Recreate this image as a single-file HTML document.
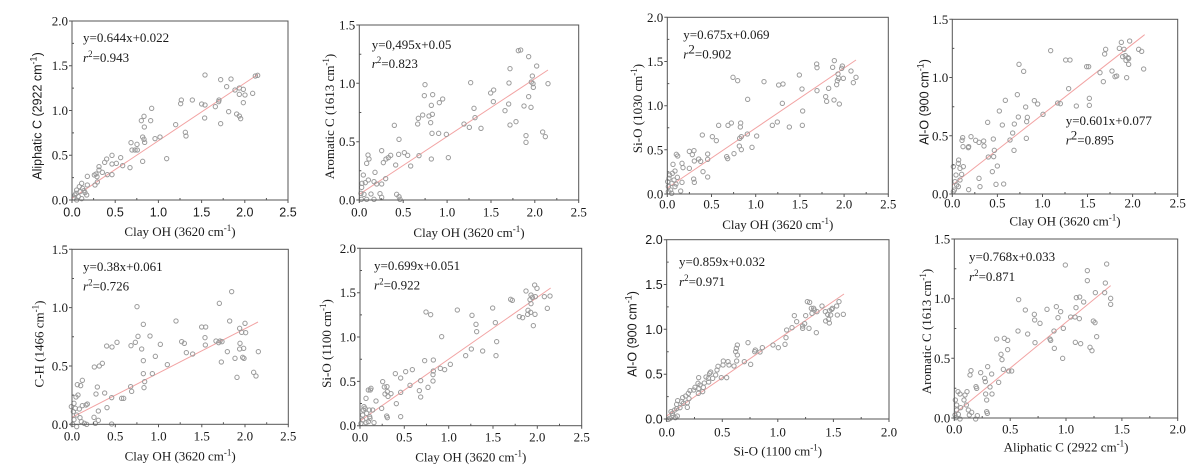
<!DOCTYPE html>
<html><head><meta charset="utf-8"><style>
html,body{margin:0;padding:0;background:#fff;}
svg{display:block;}
.s{font-family:"Liberation Serif",serif;font-size:13px;fill:#1a1a1a;}
.a{font-family:"Liberation Sans",sans-serif;font-size:12.5px;fill:#1a1a1a;}
.ax{fill:none;stroke:#555;stroke-width:1;}
.pt{fill:none;stroke:#9a9a9a;stroke-width:3;}
.rl{stroke:#f2a3a3;stroke-width:3;fill:none;}
</style></head><body>
<svg width="1202" height="470" viewBox="0 0 1202 470" xmlns="http://www.w3.org/2000/svg">
<rect width="1202" height="470" fill="#fff"/>

<!-- ===== Panel 1 ===== -->
<g class="pt" transform="translate(0,0) scale(0.33333)">
<line class="rl" x1="216" y1="595" x2="774" y2="223"/>
<circle cx="615" cy="225" r="6.5"/><circle cx="662" cy="239" r="6.5"/><circle cx="693" cy="237" r="6.5"/><circle cx="680" cy="260" r="6.5"/><circle cx="705" cy="270" r="6.5"/><circle cx="718" cy="264" r="6.5"/><circle cx="730" cy="268" r="6.5"/><circle cx="718" cy="283" r="6.5"/><circle cx="735" cy="285" r="6.5"/><circle cx="758" cy="280" r="6.5"/><circle cx="766" cy="228" r="6.5"/><circle cx="773" cy="226" r="6.5"/><circle cx="730" cy="308" r="6.5"/><circle cx="710" cy="342" r="6.5"/><circle cx="718" cy="348" r="6.5"/><circle cx="722" cy="356" r="6.5"/><circle cx="686" cy="335" r="6.5"/><circle cx="662" cy="371" r="6.5"/><circle cx="657" cy="300" r="6.5"/><circle cx="656" cy="305" r="6.5"/><circle cx="646" cy="320" r="6.5"/><circle cx="605" cy="312" r="6.5"/><circle cx="615" cy="315" r="6.5"/><circle cx="614" cy="354" r="6.5"/><circle cx="577" cy="300" r="6.5"/><circle cx="544" cy="300" r="6.5"/><circle cx="542" cy="311" r="6.5"/><circle cx="527" cy="374" r="6.5"/><circle cx="556" cy="397" r="6.5"/><circle cx="558" cy="408" r="6.5"/><circle cx="500" cy="476" r="6.5"/><circle cx="480" cy="411" r="6.5"/><circle cx="465" cy="416" r="6.5"/><circle cx="455" cy="325" r="6.5"/><circle cx="452" cy="362" r="6.5"/><circle cx="432" cy="349" r="6.5"/><circle cx="424" cy="362" r="6.5"/><circle cx="433" cy="381" r="6.5"/><circle cx="428" cy="411" r="6.5"/><circle cx="432" cy="418" r="6.5"/><circle cx="434" cy="427" r="6.5"/><circle cx="393" cy="428" r="6.5"/><circle cx="411" cy="433" r="6.5"/><circle cx="396" cy="450" r="6.5"/><circle cx="412" cy="450" r="6.5"/><circle cx="405" cy="450" r="6.5"/><circle cx="428" cy="484" r="6.5"/><circle cx="390" cy="503" r="6.5"/><circle cx="368" cy="497" r="6.5"/><circle cx="362" cy="473" r="6.5"/><circle cx="349" cy="490" r="6.5"/><circle cx="336" cy="466" r="6.5"/><circle cx="336" cy="492" r="6.5"/><circle cx="336" cy="524" r="6.5"/><circle cx="322" cy="524" r="6.5"/><circle cx="320" cy="477" r="6.5"/><circle cx="314" cy="487" r="6.5"/><circle cx="297" cy="500" r="6.5"/><circle cx="297" cy="510" r="6.5"/><circle cx="307" cy="517" r="6.5"/><circle cx="288" cy="522" r="6.5"/><circle cx="283" cy="525" r="6.5"/><circle cx="291" cy="530" r="6.5"/><circle cx="292" cy="546" r="6.5"/><circle cx="285" cy="555" r="6.5"/><circle cx="262" cy="529" r="6.5"/><circle cx="262" cy="555" r="6.5"/><circle cx="245" cy="550" r="6.5"/><circle cx="248" cy="565" r="6.5"/><circle cx="230" cy="570" r="6.5"/><circle cx="240" cy="575" r="6.5"/><circle cx="255" cy="578" r="6.5"/><circle cx="225" cy="585" r="6.5"/><circle cx="235" cy="590" r="6.5"/><circle cx="260" cy="585" r="6.5"/><circle cx="222" cy="594" r="6.5"/><circle cx="245" cy="596" r="6.5"/><circle cx="230" cy="600" r="6.5"/><circle cx="238" cy="560" r="6.5"/><circle cx="252" cy="572" r="6.5"/><circle cx="228" cy="580" r="6.5"/>
</g>
<rect class="ax" x="72" y="21" width="216" height="179"/>
<path class="ax" d="M72 200v3M115.2 200v3M158.4 200v3M201.6 200v3M244.8 200v3M288 200v3M72 200h-3M72 155.25h-3M72 110.5h-3M72 65.75h-3M72 21h-3M93.6 200v-2M136.8 200v-2M180 200v-2M223.2 200v-2M266.4 200v-2M72 177.6h2M72 132.9h2M72 88.1h2M72 43.4h2"/>
<g class="a" text-anchor="middle"><text x="72" y="216.5">0.0</text><text x="115.2" y="216.5">0.5</text><text x="158.4" y="216.5">1.0</text><text x="201.6" y="216.5">1.5</text><text x="244.8" y="216.5">2.0</text><text x="288" y="216.5">2.5</text></g>
<g class="s" text-anchor="end"><text x="68" y="204.5">0.0</text><text x="68" y="159.7">0.5</text><text x="68" y="115">1.0</text><text x="68" y="70.2">1.5</text><text x="68" y="25.5">2.0</text></g>
<text class="s" x="180" y="236" text-anchor="middle">Clay OH (3620 cm<tspan dy="-5" font-size="9">-1</tspan><tspan dy="5">)</tspan></text>
<text class="a" transform="translate(41.5,116) rotate(-90)" text-anchor="middle">Aliphatic C (2922 cm<tspan dy="-5" font-size="9">-1</tspan><tspan dy="5">)</tspan></text>
<text class="s" x="83" y="42">y=0.644x+0.022</text>
<text class="s" x="83" y="62"><tspan font-style="italic">r</tspan><tspan dy="-5" font-size="9">2</tspan><tspan dy="5">=0.943</tspan></text>

<!-- ===== Panel 2 ===== -->
<g class="pt" transform="translate(300,0) scale(0.33333)">
<line class="rl" x1="178" y1="583" x2="744" y2="210"/>
<circle cx="655" cy="152" r="6.5"/><circle cx="662" cy="150" r="6.5"/><circle cx="686" cy="170" r="6.5"/><circle cx="630" cy="206" r="6.5"/><circle cx="710" cy="198" r="6.5"/><circle cx="697" cy="228" r="6.5"/><circle cx="699" cy="251" r="6.5"/><circle cx="700" cy="262" r="6.5"/><circle cx="694" cy="246" r="6.5"/><circle cx="744" cy="251" r="6.5"/><circle cx="627" cy="249" r="6.5"/><circle cx="581" cy="270" r="6.5"/><circle cx="572" cy="279" r="6.5"/><circle cx="580" cy="305" r="6.5"/><circle cx="615" cy="332" r="6.5"/><circle cx="626" cy="312" r="6.5"/><circle cx="672" cy="318" r="6.5"/><circle cx="693" cy="322" r="6.5"/><circle cx="686" cy="290" r="6.5"/><circle cx="630" cy="375" r="6.5"/><circle cx="648" cy="365" r="6.5"/><circle cx="678" cy="407" r="6.5"/><circle cx="678" cy="427" r="6.5"/><circle cx="736" cy="410" r="6.5"/><circle cx="728" cy="396" r="6.5"/><circle cx="522" cy="325" r="6.5"/><circle cx="525" cy="353" r="6.5"/><circle cx="512" cy="248" r="6.5"/><circle cx="492" cy="372" r="6.5"/><circle cx="543" cy="385" r="6.5"/><circle cx="508" cy="382" r="6.5"/><circle cx="439" cy="403" r="6.5"/><circle cx="445" cy="473" r="6.5"/><circle cx="375" cy="254" r="6.5"/><circle cx="373" cy="287" r="6.5"/><circle cx="398" cy="284" r="6.5"/><circle cx="394" cy="316" r="6.5"/><circle cx="397" cy="343" r="6.5"/><circle cx="392" cy="368" r="6.5"/><circle cx="396" cy="400" r="6.5"/><circle cx="368" cy="345" r="6.5"/><circle cx="387" cy="348" r="6.5"/><circle cx="355" cy="355" r="6.5"/><circle cx="353" cy="372" r="6.5"/><circle cx="357" cy="467" r="6.5"/><circle cx="394" cy="477" r="6.5"/><circle cx="428" cy="297" r="6.5"/><circle cx="418" cy="308" r="6.5"/><circle cx="416" cy="400" r="6.5"/><circle cx="297" cy="418" r="6.5"/><circle cx="283" cy="376" r="6.5"/><circle cx="287" cy="495" r="6.5"/><circle cx="313" cy="458" r="6.5"/><circle cx="323" cy="466" r="6.5"/><circle cx="332" cy="498" r="6.5"/><circle cx="296" cy="463" r="6.5"/><circle cx="272" cy="466" r="6.5"/><circle cx="265" cy="473" r="6.5"/><circle cx="258" cy="477" r="6.5"/><circle cx="250" cy="488" r="6.5"/><circle cx="245" cy="452" r="6.5"/><circle cx="257" cy="536" r="6.5"/><circle cx="245" cy="552" r="6.5"/><circle cx="240" cy="581" r="6.5"/><circle cx="245" cy="592" r="6.5"/><circle cx="230" cy="552" r="6.5"/><circle cx="222" cy="545" r="6.5"/><circle cx="225" cy="517" r="6.5"/><circle cx="205" cy="540" r="6.5"/><circle cx="200" cy="490" r="6.5"/><circle cx="204" cy="465" r="6.5"/><circle cx="207" cy="477" r="6.5"/><circle cx="190" cy="525" r="6.5"/><circle cx="186" cy="550" r="6.5"/><circle cx="196" cy="548" r="6.5"/><circle cx="185" cy="562" r="6.5"/><circle cx="183" cy="580" r="6.5"/><circle cx="192" cy="583" r="6.5"/><circle cx="184" cy="598" r="6.5"/><circle cx="200" cy="598" r="6.5"/><circle cx="213" cy="582" r="6.5"/><circle cx="222" cy="598" r="6.5"/><circle cx="297" cy="590" r="6.5"/><circle cx="300" cy="598" r="6.5"/><circle cx="290" cy="583" r="6.5"/>
</g>
<rect class="ax" x="359.3" y="25" width="219.4" height="175"/>
<path class="ax" d="M359.3 200v3M403.2 200v3M447.1 200v3M491 200v3M534.8 200v3M578.7 200v3M359.3 200h-3M359.3 141.7h-3M359.3 83.3h-3M359.3 25h-3M381.2 200v-2M425.1 200v-2M469 200v-2M512.9 200v-2M556.8 200v-2M359.3 170.8h2M359.3 112.5h2M359.3 54.2h2"/>
<g class="s" text-anchor="middle"><text x="359.3" y="216.5">0.0</text><text x="403.2" y="216.5">0.5</text><text x="447.1" y="216.5">1.0</text><text x="491" y="216.5">1.5</text><text x="534.8" y="216.5">2.0</text><text x="578.7" y="216.5">2.5</text></g>
<g class="s" text-anchor="end"><text x="355.3" y="204.5">0.0</text><text x="355.3" y="146.2">0.5</text><text x="355.3" y="87.8">1.0</text><text x="355.3" y="29.5">1.5</text></g>
<text class="s" x="469" y="237" text-anchor="middle">Clay OH (3620 cm<tspan dy="-5" font-size="9">-1</tspan><tspan dy="5">)</tspan></text>
<text class="s" transform="translate(333.8,116.5) rotate(-90)" text-anchor="middle">Aromatic C (1613 cm<tspan dy="-5" font-size="9">-1</tspan><tspan dy="5">)</tspan></text>
<text class="s" x="371.7" y="48.8">y=0,495x+0.05</text>
<text class="s" x="371.7" y="67.8"><tspan font-style="italic">r</tspan><tspan dy="-5" font-size="9">2</tspan><tspan dy="5">=0.823</tspan></text>

<!-- ===== Panel 3 ===== -->
<g class="pt" transform="translate(600,0) scale(0.33333)">
<line class="rl" x1="202" y1="564" x2="768" y2="180"/>
<circle cx="650" cy="192" r="6.5"/><circle cx="651" cy="203" r="6.5"/><circle cx="703" cy="182" r="6.5"/><circle cx="698" cy="202" r="6.5"/><circle cx="727" cy="198" r="6.5"/><circle cx="725" cy="205" r="6.5"/><circle cx="714" cy="222" r="6.5"/><circle cx="716" cy="235" r="6.5"/><circle cx="712" cy="242" r="6.5"/><circle cx="710" cy="254" r="6.5"/><circle cx="753" cy="213" r="6.5"/><circle cx="768" cy="232" r="6.5"/><circle cx="760" cy="248" r="6.5"/><circle cx="730" cy="235" r="6.5"/><circle cx="702" cy="300" r="6.5"/><circle cx="718" cy="312" r="6.5"/><circle cx="680" cy="304" r="6.5"/><circle cx="686" cy="265" r="6.5"/><circle cx="677" cy="290" r="6.5"/><circle cx="651" cy="272" r="6.5"/><circle cx="598" cy="225" r="6.5"/><circle cx="606" cy="267" r="6.5"/><circle cx="549" cy="252" r="6.5"/><circle cx="536" cy="255" r="6.5"/><circle cx="492" cy="245" r="6.5"/><circle cx="399" cy="232" r="6.5"/><circle cx="413" cy="242" r="6.5"/><circle cx="608" cy="333" r="6.5"/><circle cx="547" cy="310" r="6.5"/><circle cx="532" cy="366" r="6.5"/><circle cx="517" cy="376" r="6.5"/><circle cx="568" cy="381" r="6.5"/><circle cx="607" cy="376" r="6.5"/><circle cx="443" cy="298" r="6.5"/><circle cx="422" cy="369" r="6.5"/><circle cx="421" cy="381" r="6.5"/><circle cx="424" cy="410" r="6.5"/><circle cx="418" cy="438" r="6.5"/><circle cx="419" cy="415" r="6.5"/><circle cx="394" cy="369" r="6.5"/><circle cx="384" cy="376" r="6.5"/><circle cx="442" cy="402" r="6.5"/><circle cx="470" cy="408" r="6.5"/><circle cx="456" cy="442" r="6.5"/><circle cx="424" cy="449" r="6.5"/><circle cx="402" cy="461" r="6.5"/><circle cx="380" cy="470" r="6.5"/><circle cx="383" cy="476" r="6.5"/><circle cx="356" cy="376" r="6.5"/><circle cx="349" cy="422" r="6.5"/><circle cx="337" cy="410" r="6.5"/><circle cx="307" cy="405" r="6.5"/><circle cx="323" cy="462" r="6.5"/><circle cx="323" cy="478" r="6.5"/><circle cx="323" cy="531" r="6.5"/><circle cx="309" cy="515" r="6.5"/><circle cx="282" cy="452" r="6.5"/><circle cx="277" cy="464" r="6.5"/><circle cx="268" cy="454" r="6.5"/><circle cx="283" cy="483" r="6.5"/><circle cx="296" cy="477" r="6.5"/><circle cx="302" cy="484" r="6.5"/><circle cx="268" cy="505" r="6.5"/><circle cx="229" cy="463" r="6.5"/><circle cx="233" cy="468" r="6.5"/><circle cx="219" cy="493" r="6.5"/><circle cx="246" cy="490" r="6.5"/><circle cx="249" cy="503" r="6.5"/><circle cx="246" cy="547" r="6.5"/><circle cx="281" cy="537" r="6.5"/><circle cx="283" cy="547" r="6.5"/><circle cx="242" cy="573" r="6.5"/><circle cx="225" cy="513" r="6.5"/><circle cx="217" cy="520" r="6.5"/><circle cx="209" cy="525" r="6.5"/><circle cx="207" cy="535" r="6.5"/><circle cx="203" cy="545" r="6.5"/><circle cx="205" cy="560" r="6.5"/><circle cx="212" cy="570" r="6.5"/><circle cx="216" cy="550" r="6.5"/><circle cx="222" cy="540" r="6.5"/><circle cx="228" cy="552" r="6.5"/><circle cx="215" cy="580" r="6.5"/><circle cx="232" cy="532" r="6.5"/><circle cx="225" cy="560" r="6.5"/><circle cx="205" cy="575" r="6.5"/>
</g>
<rect class="ax" x="667.3" y="17.3" width="221" height="176.7"/>
<path class="ax" d="M667.3 194v3M711.5 194v3M755.7 194v3M799.9 194v3M844.1 194v3M888.3 194v3M667.3 194h-3M667.3 149.8h-3M667.3 105.7h-3M667.3 61.5h-3M667.3 17.3h-3M689.4 194v-2M733.6 194v-2M777.8 194v-2M822 194v-2M866.2 194v-2M667.3 171.9h2M667.3 127.8h2M667.3 83.6h2M667.3 39.4h2"/>
<g class="s" text-anchor="middle"><text x="667.3" y="208.5">0.0</text><text x="711.5" y="208.5">0.5</text><text x="755.7" y="208.5">1.0</text><text x="799.9" y="208.5">1.5</text><text x="844.1" y="208.5">2.0</text><text x="888.3" y="208.5">2.5</text></g>
<g class="s" text-anchor="end"><text x="663.3" y="198.5">0.0</text><text x="663.3" y="154.3">0.5</text><text x="663.3" y="110.2">1.0</text><text x="663.3" y="66">1.5</text><text x="663.3" y="21.8">2.0</text></g>
<text class="s" x="777.8" y="229" text-anchor="middle">Clay OH (3620 cm<tspan dy="-5" font-size="9">-1</tspan><tspan dy="5">)</tspan></text>
<text class="s" transform="translate(642.2,108.5) rotate(-90)" text-anchor="middle">Si-O (1030 cm<tspan dy="-5" font-size="9">-1</tspan><tspan dy="5">)</tspan></text>
<text class="s" x="683.3" y="38.8">y=0.675x+0.069</text>
<text class="s" x="683.3" y="58.5"><tspan font-style="italic">r</tspan><tspan dy="-5" font-size="13">2</tspan><tspan dy="5">=0.902</tspan></text>

<!-- ===== Panel 4 ===== -->
<g class="pt" transform="translate(900,0) scale(0.33333)">
<line class="rl" x1="157" y1="555" x2="734" y2="104"/>
<circle cx="452" cy="152" r="6.5"/><circle cx="497" cy="180" r="6.5"/><circle cx="510" cy="180" r="6.5"/><circle cx="357" cy="193" r="6.5"/><circle cx="371" cy="214" r="6.5"/><circle cx="560" cy="200" r="6.5"/><circle cx="566" cy="200" r="6.5"/><circle cx="617" cy="148" r="6.5"/><circle cx="614" cy="162" r="6.5"/><circle cx="664" cy="127" r="6.5"/><circle cx="689" cy="123" r="6.5"/><circle cx="658" cy="145" r="6.5"/><circle cx="672" cy="148" r="6.5"/><circle cx="676" cy="167" r="6.5"/><circle cx="684" cy="173" r="6.5"/><circle cx="678" cy="181" r="6.5"/><circle cx="686" cy="176" r="6.5"/><circle cx="668" cy="170" r="6.5"/><circle cx="716" cy="148" r="6.5"/><circle cx="725" cy="154" r="6.5"/><circle cx="686" cy="193" r="6.5"/><circle cx="680" cy="233" r="6.5"/><circle cx="636" cy="213" r="6.5"/><circle cx="645" cy="230" r="6.5"/><circle cx="650" cy="228" r="6.5"/><circle cx="600" cy="218" r="6.5"/><circle cx="610" cy="245" r="6.5"/><circle cx="731" cy="207" r="6.5"/><circle cx="568" cy="295" r="6.5"/><circle cx="568" cy="316" r="6.5"/><circle cx="506" cy="266" r="6.5"/><circle cx="473" cy="309" r="6.5"/><circle cx="481" cy="311" r="6.5"/><circle cx="529" cy="318" r="6.5"/><circle cx="429" cy="343" r="6.5"/><circle cx="403" cy="302" r="6.5"/><circle cx="413" cy="312" r="6.5"/><circle cx="352" cy="284" r="6.5"/><circle cx="316" cy="301" r="6.5"/><circle cx="338" cy="399" r="6.5"/><circle cx="343" cy="372" r="6.5"/><circle cx="382" cy="352" r="6.5"/><circle cx="355" cy="351" r="6.5"/><circle cx="377" cy="321" r="6.5"/><circle cx="380" cy="365" r="6.5"/><circle cx="379" cy="415" r="6.5"/><circle cx="330" cy="420" r="6.5"/><circle cx="342" cy="451" r="6.5"/><circle cx="298" cy="333" r="6.5"/><circle cx="307" cy="375" r="6.5"/><circle cx="263" cy="367" r="6.5"/><circle cx="280" cy="417" r="6.5"/><circle cx="283" cy="451" r="6.5"/><circle cx="251" cy="423" r="6.5"/><circle cx="252" cy="438" r="6.5"/><circle cx="227" cy="421" r="6.5"/><circle cx="237" cy="427" r="6.5"/><circle cx="277" cy="515" r="6.5"/><circle cx="281" cy="470" r="6.5"/><circle cx="265" cy="471" r="6.5"/><circle cx="292" cy="498" r="6.5"/><circle cx="288" cy="553" r="6.5"/><circle cx="237" cy="535" r="6.5"/><circle cx="240" cy="560" r="6.5"/><circle cx="206" cy="440" r="6.5"/><circle cx="213" cy="410" r="6.5"/><circle cx="188" cy="413" r="6.5"/><circle cx="189" cy="440" r="6.5"/><circle cx="186" cy="421" r="6.5"/><circle cx="205" cy="443" r="6.5"/><circle cx="185" cy="523" r="6.5"/><circle cx="190" cy="500" r="6.5"/><circle cx="175" cy="490" r="6.5"/><circle cx="176" cy="480" r="6.5"/><circle cx="180" cy="505" r="6.5"/><circle cx="168" cy="525" r="6.5"/><circle cx="165" cy="545" r="6.5"/><circle cx="170" cy="555" r="6.5"/><circle cx="175" cy="560" r="6.5"/><circle cx="163" cy="570" r="6.5"/><circle cx="180" cy="540" r="6.5"/><circle cx="206" cy="569" r="6.5"/><circle cx="311" cy="552" r="6.5"/><circle cx="160" cy="500" r="6.5"/><circle cx="160" cy="575" r="6.5"/>
</g>
<rect class="ax" x="952.3" y="19.3" width="225.4" height="174.7"/>
<path class="ax" d="M952.3 194v3M997.4 194v3M1042.5 194v3M1087.5 194v3M1132.6 194v3M1177.7 194v3M952.3 194h-3M952.3 135.8h-3M952.3 77.5h-3M952.3 19.3h-3M974.8 194v-2M1019.9 194v-2M1065 194v-2M1110 194v-2M1155.1 194v-2M952.3 164.9h2M952.3 106.7h2M952.3 48.4h2"/>
<g class="s" text-anchor="middle"><text x="952.3" y="207.5">0.0</text><text x="997.4" y="207.5">0.5</text><text x="1042.5" y="207.5">1.0</text><text x="1087.5" y="207.5">1.5</text><text x="1132.6" y="207.5">2.0</text><text x="1177.7" y="207.5">2.5</text></g>
<g class="s" text-anchor="end"><text x="948.3" y="198.5">0.0</text><text x="948.3" y="140.3">0.5</text><text x="948.3" y="82">1.0</text><text x="948.3" y="23.8">1.5</text></g>
<text class="s" x="1065" y="225.5" text-anchor="middle">Clay OH (3620 cm<tspan dy="-5" font-size="9">-1</tspan><tspan dy="5">)</tspan></text>
<text class="a" transform="translate(928.5,102) rotate(-90)" text-anchor="middle">Al-O (900 cm<tspan dy="-5" font-size="9">-1</tspan><tspan dy="5">)</tspan></text>
<text class="s" x="1065.7" y="125.2">y=0.601x+0.077</text>
<text class="s" x="1065.7" y="144.5"><tspan font-style="italic">r</tspan><tspan dy="-5" font-size="13">2</tspan><tspan dy="5">=0.895</tspan></text>

<!-- ===== Panel 5 ===== -->
<g class="pt" transform="translate(0,235) scale(0.33333)">
<line class="rl" x1="216" y1="547" x2="774" y2="261"/>
<circle cx="695" cy="170" r="6.5"/><circle cx="658" cy="205" r="6.5"/><circle cx="411" cy="215" r="6.5"/><circle cx="528" cy="258" r="6.5"/><circle cx="689" cy="258" r="6.5"/><circle cx="605" cy="276" r="6.5"/><circle cx="617" cy="276" r="6.5"/><circle cx="735" cy="265" r="6.5"/><circle cx="719" cy="280" r="6.5"/><circle cx="725" cy="292" r="6.5"/><circle cx="737" cy="293" r="6.5"/><circle cx="615" cy="308" r="6.5"/><circle cx="616" cy="330" r="6.5"/><circle cx="648" cy="318" r="6.5"/><circle cx="660" cy="318" r="6.5"/><circle cx="656" cy="323" r="6.5"/><circle cx="666" cy="320" r="6.5"/><circle cx="545" cy="320" r="6.5"/><circle cx="553" cy="325" r="6.5"/><circle cx="559" cy="353" r="6.5"/><circle cx="578" cy="357" r="6.5"/><circle cx="682" cy="350" r="6.5"/><circle cx="720" cy="325" r="6.5"/><circle cx="719" cy="342" r="6.5"/><circle cx="731" cy="340" r="6.5"/><circle cx="728" cy="367" r="6.5"/><circle cx="732" cy="370" r="6.5"/><circle cx="705" cy="370" r="6.5"/><circle cx="664" cy="381" r="6.5"/><circle cx="775" cy="350" r="6.5"/><circle cx="761" cy="412" r="6.5"/><circle cx="768" cy="423" r="6.5"/><circle cx="711" cy="427" r="6.5"/><circle cx="430" cy="268" r="6.5"/><circle cx="414" cy="304" r="6.5"/><circle cx="450" cy="303" r="6.5"/><circle cx="406" cy="322" r="6.5"/><circle cx="393" cy="332" r="6.5"/><circle cx="425" cy="342" r="6.5"/><circle cx="481" cy="328" r="6.5"/><circle cx="351" cy="322" r="6.5"/><circle cx="320" cy="333" r="6.5"/><circle cx="336" cy="336" r="6.5"/><circle cx="466" cy="364" r="6.5"/><circle cx="502" cy="389" r="6.5"/><circle cx="430" cy="377" r="6.5"/><circle cx="457" cy="416" r="6.5"/><circle cx="430" cy="416" r="6.5"/><circle cx="434" cy="440" r="6.5"/><circle cx="432" cy="458" r="6.5"/><circle cx="392" cy="455" r="6.5"/><circle cx="395" cy="469" r="6.5"/><circle cx="335" cy="488" r="6.5"/><circle cx="365" cy="490" r="6.5"/><circle cx="371" cy="490" r="6.5"/><circle cx="283" cy="396" r="6.5"/><circle cx="298" cy="393" r="6.5"/><circle cx="307" cy="385" r="6.5"/><circle cx="247" cy="436" r="6.5"/><circle cx="232" cy="449" r="6.5"/><circle cx="228" cy="486" r="6.5"/><circle cx="234" cy="480" r="6.5"/><circle cx="242" cy="452" r="6.5"/><circle cx="292" cy="456" r="6.5"/><circle cx="288" cy="477" r="6.5"/><circle cx="295" cy="528" r="6.5"/><circle cx="321" cy="518" r="6.5"/><circle cx="314" cy="474" r="6.5"/><circle cx="282" cy="547" r="6.5"/><circle cx="295" cy="556" r="6.5"/><circle cx="262" cy="507" r="6.5"/><circle cx="258" cy="510" r="6.5"/><circle cx="247" cy="512" r="6.5"/><circle cx="238" cy="522" r="6.5"/><circle cx="226" cy="520" r="6.5"/><circle cx="230" cy="540" r="6.5"/><circle cx="222" cy="554" r="6.5"/><circle cx="240" cy="548" r="6.5"/><circle cx="244" cy="560" r="6.5"/><circle cx="230" cy="575" r="6.5"/><circle cx="253" cy="565" r="6.5"/><circle cx="260" cy="568" r="6.5"/><circle cx="220" cy="530" r="6.5"/><circle cx="222" cy="505" r="6.5"/><circle cx="214" cy="515" r="6.5"/><circle cx="286" cy="565" r="6.5"/><circle cx="335" cy="567" r="6.5"/><circle cx="218" cy="568" r="6.5"/>
</g>
<rect class="ax" x="72" y="249.3" width="216.3" height="175"/>
<path class="ax" d="M72 424.3v3M115.3 424.3v3M158.5 424.3v3M201.8 424.3v3M245 424.3v3M288.3 424.3v3M72 424.3h-3M72 366h-3M72 307.6h-3M72 249.3h-3M93.6 424.3v-2M136.9 424.3v-2M180.2 424.3v-2M223.4 424.3v-2M266.7 424.3v-2M72 395.1h2M72 336.8h2M72 278.5h2"/>
<g class="s" text-anchor="middle"><text x="72" y="440.5">0.0</text><text x="115.3" y="440.5">0.5</text><text x="158.5" y="440.5">1.0</text><text x="201.8" y="440.5">1.5</text><text x="245" y="440.5">2.0</text><text x="288.3" y="440.5">2.5</text></g>
<g class="s" text-anchor="end"><text x="68" y="428.8">0.0</text><text x="68" y="370.5">0.5</text><text x="68" y="312.1">1.0</text><text x="68" y="253.8">1.5</text></g>
<text class="s" x="180.2" y="460.5" text-anchor="middle">Clay OH (3620 cm<tspan dy="-5" font-size="9">-1</tspan><tspan dy="5">)</tspan></text>
<text class="s" transform="translate(43.5,344) rotate(-90)" text-anchor="middle">C-H (1466 cm<tspan dy="-5" font-size="9">-1</tspan><tspan dy="5">)</tspan></text>
<text class="s" x="83" y="271.2">y=0.38x+0.061</text>
<text class="s" x="83" y="290.5"><tspan font-style="italic">r</tspan><tspan dy="-5" font-size="9">2</tspan><tspan dy="5">=0.726</tspan></text>

<!-- ===== Panel 6 ===== -->
<g class="pt" transform="translate(300,235) scale(0.33333)">
<line class="rl" x1="180" y1="558" x2="752" y2="159"/>
<circle cx="704" cy="150" r="6.5"/><circle cx="711" cy="160" r="6.5"/><circle cx="678" cy="168" r="6.5"/><circle cx="693" cy="180" r="6.5"/><circle cx="697" cy="187" r="6.5"/><circle cx="706" cy="185" r="6.5"/><circle cx="733" cy="185" r="6.5"/><circle cx="750" cy="183" r="6.5"/><circle cx="632" cy="193" r="6.5"/><circle cx="637" cy="196" r="6.5"/><circle cx="658" cy="245" r="6.5"/><circle cx="668" cy="248" r="6.5"/><circle cx="684" cy="226" r="6.5"/><circle cx="692" cy="232" r="6.5"/><circle cx="683" cy="238" r="6.5"/><circle cx="690" cy="194" r="6.5"/><circle cx="693" cy="206" r="6.5"/><circle cx="705" cy="238" r="6.5"/><circle cx="742" cy="220" r="6.5"/><circle cx="700" cy="272" r="6.5"/><circle cx="578" cy="219" r="6.5"/><circle cx="586" cy="263" r="6.5"/><circle cx="590" cy="320" r="6.5"/><circle cx="588" cy="362" r="6.5"/><circle cx="548" cy="348" r="6.5"/><circle cx="528" cy="268" r="6.5"/><circle cx="530" cy="290" r="6.5"/><circle cx="516" cy="241" r="6.5"/><circle cx="514" cy="342" r="6.5"/><circle cx="497" cy="362" r="6.5"/><circle cx="472" cy="225" r="6.5"/><circle cx="378" cy="231" r="6.5"/><circle cx="392" cy="239" r="6.5"/><circle cx="425" cy="305" r="6.5"/><circle cx="451" cy="388" r="6.5"/><circle cx="421" cy="400" r="6.5"/><circle cx="434" cy="404" r="6.5"/><circle cx="400" cy="375" r="6.5"/><circle cx="399" cy="438" r="6.5"/><circle cx="399" cy="419" r="6.5"/><circle cx="400" cy="408" r="6.5"/><circle cx="362" cy="437" r="6.5"/><circle cx="374" cy="377" r="6.5"/><circle cx="384" cy="457" r="6.5"/><circle cx="358" cy="467" r="6.5"/><circle cx="362" cy="486" r="6.5"/><circle cx="337" cy="404" r="6.5"/><circle cx="317" cy="410" r="6.5"/><circle cx="330" cy="451" r="6.5"/><circle cx="302" cy="429" r="6.5"/><circle cx="286" cy="416" r="6.5"/><circle cx="302" cy="472" r="6.5"/><circle cx="289" cy="506" r="6.5"/><circle cx="261" cy="455" r="6.5"/><circle cx="262" cy="470" r="6.5"/><circle cx="255" cy="477" r="6.5"/><circle cx="264" cy="484" r="6.5"/><circle cx="273" cy="476" r="6.5"/><circle cx="248" cy="440" r="6.5"/><circle cx="253" cy="456" r="6.5"/><circle cx="245" cy="520" r="6.5"/><circle cx="260" cy="543" r="6.5"/><circle cx="262" cy="548" r="6.5"/><circle cx="302" cy="545" r="6.5"/><circle cx="228" cy="498" r="6.5"/><circle cx="211" cy="465" r="6.5"/><circle cx="213" cy="460" r="6.5"/><circle cx="205" cy="465" r="6.5"/><circle cx="198" cy="490" r="6.5"/><circle cx="195" cy="520" r="6.5"/><circle cx="190" cy="525" r="6.5"/><circle cx="188" cy="540" r="6.5"/><circle cx="200" cy="535" r="6.5"/><circle cx="208" cy="525" r="6.5"/><circle cx="210" cy="550" r="6.5"/><circle cx="205" cy="560" r="6.5"/><circle cx="188" cy="555" r="6.5"/><circle cx="183" cy="565" r="6.5"/><circle cx="222" cy="563" r="6.5"/><circle cx="198" cy="563" r="6.5"/><circle cx="209" cy="545" r="6.5"/><circle cx="192" cy="515" r="6.5"/><circle cx="218" cy="525" r="6.5"/>
</g>
<rect class="ax" x="360" y="248.3" width="221.7" height="177.4"/>
<path class="ax" d="M360 425.7v3M404.3 425.7v3M448.7 425.7v3M493 425.7v3M537.3 425.7v3M581.7 425.7v3M360 425.7h-3M360 381.4h-3M360 337h-3M360 292.7h-3M360 248.3h-3M382.2 425.7v-2M426.5 425.7v-2M470.8 425.7v-2M515.2 425.7v-2M559.5 425.7v-2M360 403.5h2M360 359.2h2M360 314.9h2M360 270.5h2"/>
<g class="s" text-anchor="middle"><text x="360" y="441.5">0.0</text><text x="404.3" y="441.5">0.5</text><text x="448.7" y="441.5">1.0</text><text x="493" y="441.5">1.5</text><text x="537.3" y="441.5">2.0</text><text x="581.7" y="441.5">2.5</text></g>
<g class="s" text-anchor="end"><text x="356" y="430.2">0.0</text><text x="356" y="385.9">0.5</text><text x="356" y="341.5">1.0</text><text x="356" y="297.2">1.5</text><text x="356" y="252.8">2.0</text></g>
<text class="s" x="470.8" y="461.5" text-anchor="middle">Clay OH (3620 cm<tspan dy="-5" font-size="9">-1</tspan><tspan dy="5">)</tspan></text>
<text class="s" transform="translate(331.2,343.5) rotate(-90)" text-anchor="middle">Si-O (1100 cm<tspan dy="-5" font-size="9">-1</tspan><tspan dy="5">)</tspan></text>
<text class="s" x="374" y="270.2">y=0.699x+0.051</text>
<text class="s" x="374" y="289.5"><tspan font-style="italic">r</tspan><tspan dy="-5" font-size="9">2</tspan><tspan dy="5">=0.922</tspan></text>

<!-- ===== Panel 7 ===== -->
<g class="pt" transform="translate(600,225) scale(0.33333)">
<line class="rl" x1="200" y1="573" x2="732" y2="207"/>
<circle cx="622" cy="230" r="6.5"/><circle cx="629" cy="232" r="6.5"/><circle cx="583" cy="272" r="6.5"/><circle cx="590" cy="290" r="6.5"/><circle cx="617" cy="272" r="6.5"/><circle cx="634" cy="250" r="6.5"/><circle cx="641" cy="250" r="6.5"/><circle cx="636" cy="265" r="6.5"/><circle cx="643" cy="255" r="6.5"/><circle cx="666" cy="243" r="6.5"/><circle cx="651" cy="260" r="6.5"/><circle cx="676" cy="260" r="6.5"/><circle cx="689" cy="257" r="6.5"/><circle cx="695" cy="253" r="6.5"/><circle cx="710" cy="243" r="6.5"/><circle cx="717" cy="230" r="6.5"/><circle cx="697" cy="250" r="6.5"/><circle cx="683" cy="268" r="6.5"/><circle cx="692" cy="270" r="6.5"/><circle cx="712" cy="270" r="6.5"/><circle cx="730" cy="268" r="6.5"/><circle cx="686" cy="283" r="6.5"/><circle cx="688" cy="294" r="6.5"/><circle cx="677" cy="288" r="6.5"/><circle cx="649" cy="323" r="6.5"/><circle cx="608" cy="310" r="6.5"/><circle cx="614" cy="296" r="6.5"/><circle cx="608" cy="303" r="6.5"/><circle cx="627" cy="310" r="6.5"/><circle cx="576" cy="308" r="6.5"/><circle cx="560" cy="315" r="6.5"/><circle cx="558" cy="338" r="6.5"/><circle cx="555" cy="358" r="6.5"/><circle cx="519" cy="360" r="6.5"/><circle cx="535" cy="368" r="6.5"/><circle cx="487" cy="368" r="6.5"/><circle cx="466" cy="375" r="6.5"/><circle cx="480" cy="381" r="6.5"/><circle cx="464" cy="380" r="6.5"/><circle cx="444" cy="353" r="6.5"/><circle cx="412" cy="360" r="6.5"/><circle cx="409" cy="370" r="6.5"/><circle cx="407" cy="380" r="6.5"/><circle cx="412" cy="390" r="6.5"/><circle cx="433" cy="410" r="6.5"/><circle cx="452" cy="418" r="6.5"/><circle cx="410" cy="408" r="6.5"/><circle cx="402" cy="423" r="6.5"/><circle cx="387" cy="420" r="6.5"/><circle cx="370" cy="408" r="6.5"/><circle cx="369" cy="420" r="6.5"/><circle cx="384" cy="410" r="6.5"/><circle cx="354" cy="424" r="6.5"/><circle cx="351" cy="435" r="6.5"/><circle cx="332" cy="441" r="6.5"/><circle cx="318" cy="456" r="6.5"/><circle cx="380" cy="458" r="6.5"/><circle cx="364" cy="458" r="6.5"/><circle cx="338" cy="460" r="6.5"/><circle cx="329" cy="445" r="6.5"/><circle cx="347" cy="450" r="6.5"/><circle cx="325" cy="460" r="6.5"/><circle cx="326" cy="471" r="6.5"/><circle cx="313" cy="474" r="6.5"/><circle cx="296" cy="458" r="6.5"/><circle cx="294" cy="475" r="6.5"/><circle cx="296" cy="490" r="6.5"/><circle cx="310" cy="487" r="6.5"/><circle cx="308" cy="500" r="6.5"/><circle cx="300" cy="480" r="6.5"/><circle cx="285" cy="487" r="6.5"/><circle cx="281" cy="495" r="6.5"/><circle cx="265" cy="505" r="6.5"/><circle cx="267" cy="521" r="6.5"/><circle cx="270" cy="497" r="6.5"/><circle cx="257" cy="513" r="6.5"/><circle cx="262" cy="533" r="6.5"/><circle cx="248" cy="518" r="6.5"/><circle cx="233" cy="527" r="6.5"/><circle cx="230" cy="538" r="6.5"/><circle cx="245" cy="530" r="6.5"/><circle cx="230" cy="551" r="6.5"/><circle cx="224" cy="555" r="6.5"/><circle cx="240" cy="548" r="6.5"/><circle cx="262" cy="547" r="6.5"/><circle cx="213" cy="560" r="6.5"/><circle cx="218" cy="572" r="6.5"/><circle cx="226" cy="578" r="6.5"/><circle cx="232" cy="573" r="6.5"/><circle cx="210" cy="580" r="6.5"/><circle cx="205" cy="583" r="6.5"/><circle cx="217" cy="565" r="6.5"/><circle cx="250" cy="535" r="6.5"/><circle cx="295" cy="505" r="6.5"/>
</g>
<rect class="ax" x="666.7" y="239.7" width="222.3" height="179.3"/>
<path class="ax" d="M666.7 419v3M722.3 419v3M777.8 419v3M833.4 419v3M889 419v3M666.7 419h-3M666.7 374.2h-3M666.7 329.3h-3M666.7 284.5h-3M666.7 239.7h-3M694.5 419v-2M750 419v-2M805.6 419v-2M861.2 419v-2M666.7 396.6h2M666.7 351.7h2M666.7 306.9h2M666.7 262.1h2"/>
<g class="s" text-anchor="middle"><text x="666.7" y="436.5">0.0</text><text x="722.3" y="436.5">0.5</text><text x="777.8" y="436.5">1.0</text><text x="833.4" y="436.5">1.5</text><text x="889" y="436.5">2.0</text></g>
<g class="a" text-anchor="end"><text x="662.7" y="423.5">0.0</text><text x="662.7" y="378.7">0.5</text><text x="662.7" y="333.8">1.0</text><text x="662.7" y="289">1.5</text><text x="662.7" y="244.2">2.0</text></g>
<text class="s" x="777.8" y="455.5" text-anchor="middle">Si-O (1100 cm<tspan dy="-5" font-size="9">-1</tspan><tspan dy="5">)</tspan></text>
<text class="a" transform="translate(636.5,334) rotate(-90)" text-anchor="middle">Al-O (900 cm<tspan dy="-5" font-size="9">-1</tspan><tspan dy="5">)</tspan></text>
<text class="s" x="679" y="266.2">y=0.859x+0.032</text>
<text class="s" x="679" y="286.2"><tspan font-style="italic">r</tspan><tspan dy="-5" font-size="9">2</tspan><tspan dy="5">=0.971</tspan></text>

<!-- ===== Panel 8 ===== -->
<g class="pt" transform="translate(900,225) scale(0.33333)">
<line class="rl" x1="163" y1="567" x2="632" y2="182"/>
<circle cx="620" cy="117" r="6.5"/><circle cx="496" cy="120" r="6.5"/><circle cx="562" cy="137" r="6.5"/><circle cx="562" cy="167" r="6.5"/><circle cx="616" cy="174" r="6.5"/><circle cx="632" cy="220" r="6.5"/><circle cx="632" cy="238" r="6.5"/><circle cx="614" cy="203" r="6.5"/><circle cx="586" cy="203" r="6.5"/><circle cx="551" cy="231" r="6.5"/><circle cx="529" cy="218" r="6.5"/><circle cx="539" cy="216" r="6.5"/><circle cx="528" cy="248" r="6.5"/><circle cx="525" cy="276" r="6.5"/><circle cx="538" cy="281" r="6.5"/><circle cx="580" cy="288" r="6.5"/><circle cx="585" cy="293" r="6.5"/><circle cx="590" cy="335" r="6.5"/><circle cx="570" cy="367" r="6.5"/><circle cx="576" cy="377" r="6.5"/><circle cx="542" cy="356" r="6.5"/><circle cx="526" cy="352" r="6.5"/><circle cx="469" cy="245" r="6.5"/><circle cx="474" cy="278" r="6.5"/><circle cx="482" cy="260" r="6.5"/><circle cx="441" cy="253" r="6.5"/><circle cx="420" cy="295" r="6.5"/><circle cx="403" cy="268" r="6.5"/><circle cx="404" cy="285" r="6.5"/><circle cx="376" cy="255" r="6.5"/><circle cx="356" cy="224" r="6.5"/><circle cx="383" cy="327" r="6.5"/><circle cx="405" cy="353" r="6.5"/><circle cx="450" cy="342" r="6.5"/><circle cx="452" cy="346" r="6.5"/><circle cx="462" cy="318" r="6.5"/><circle cx="490" cy="310" r="6.5"/><circle cx="463" cy="370" r="6.5"/><circle cx="488" cy="400" r="6.5"/><circle cx="512" cy="276" r="6.5"/><circle cx="354" cy="318" r="6.5"/><circle cx="323" cy="346" r="6.5"/><circle cx="313" cy="340" r="6.5"/><circle cx="290" cy="342" r="6.5"/><circle cx="323" cy="374" r="6.5"/><circle cx="326" cy="438" r="6.5"/><circle cx="303" cy="388" r="6.5"/><circle cx="310" cy="433" r="6.5"/><circle cx="335" cy="438" r="6.5"/><circle cx="306" cy="404" r="6.5"/><circle cx="275" cy="447" r="6.5"/><circle cx="263" cy="425" r="6.5"/><circle cx="296" cy="472" r="6.5"/><circle cx="254" cy="460" r="6.5"/><circle cx="256" cy="470" r="6.5"/><circle cx="276" cy="507" r="6.5"/><circle cx="257" cy="507" r="6.5"/><circle cx="270" cy="486" r="6.5"/><circle cx="242" cy="443" r="6.5"/><circle cx="213" cy="437" r="6.5"/><circle cx="210" cy="450" r="6.5"/><circle cx="201" cy="500" r="6.5"/><circle cx="195" cy="510" r="6.5"/><circle cx="180" cy="507" r="6.5"/><circle cx="174" cy="500" r="6.5"/><circle cx="192" cy="525" r="6.5"/><circle cx="199" cy="540" r="6.5"/><circle cx="182" cy="548" r="6.5"/><circle cx="170" cy="555" r="6.5"/><circle cx="175" cy="568" r="6.5"/><circle cx="168" cy="578" r="6.5"/><circle cx="180" cy="582" r="6.5"/><circle cx="165" cy="570" r="6.5"/><circle cx="170" cy="540" r="6.5"/><circle cx="166" cy="525" r="6.5"/><circle cx="205" cy="555" r="6.5"/><circle cx="208" cy="570" r="6.5"/><circle cx="215" cy="562" r="6.5"/><circle cx="232" cy="572" r="6.5"/><circle cx="227" cy="582" r="6.5"/><circle cx="260" cy="560" r="6.5"/><circle cx="262" cy="565" r="6.5"/><circle cx="260" cy="525" r="6.5"/><circle cx="230" cy="490" r="6.5"/><circle cx="228" cy="485" r="6.5"/>
</g>
<rect class="ax" x="954.3" y="239" width="223.4" height="179"/>
<path class="ax" d="M954.3 418v3M1010.2 418v3M1066 418v3M1121.9 418v3M1177.7 418v3M954.3 418h-3M954.3 358.3h-3M954.3 298.7h-3M954.3 239h-3M982.2 418v-2M1038.1 418v-2M1094 418v-2M1149.8 418v-2M954.3 388.2h2M954.3 328.5h2M954.3 268.8h2"/>
<g class="s" text-anchor="middle"><text x="954.3" y="433.5">0.0</text><text x="1010.2" y="433.5">0.5</text><text x="1066" y="433.5">1.0</text><text x="1121.9" y="433.5">1.5</text><text x="1177.7" y="433.5">2.0</text></g>
<g class="s" text-anchor="end"><text x="950.3" y="422.5">0.0</text><text x="950.3" y="362.8">0.5</text><text x="950.3" y="303.2">1.0</text><text x="950.3" y="243.5">1.5</text></g>
<text class="s" x="1066" y="451.5" text-anchor="middle">Aliphatic C (2922 cm<tspan dy="-5" font-size="9">-1</tspan><tspan dy="5">)</tspan></text>
<text class="s" transform="translate(931.2,331.5) rotate(-90)" text-anchor="middle">Aromatic C (1613 cm<tspan dy="-5" font-size="9">-1</tspan><tspan dy="5">)</tspan></text>
<text class="s" x="969" y="261.2">y=0.768x+0.033</text>
<text class="s" x="969" y="281.2"><tspan font-style="italic">r</tspan><tspan dy="-5" font-size="9">2</tspan><tspan dy="5">=0.871</tspan></text>
</svg>
</body></html>
